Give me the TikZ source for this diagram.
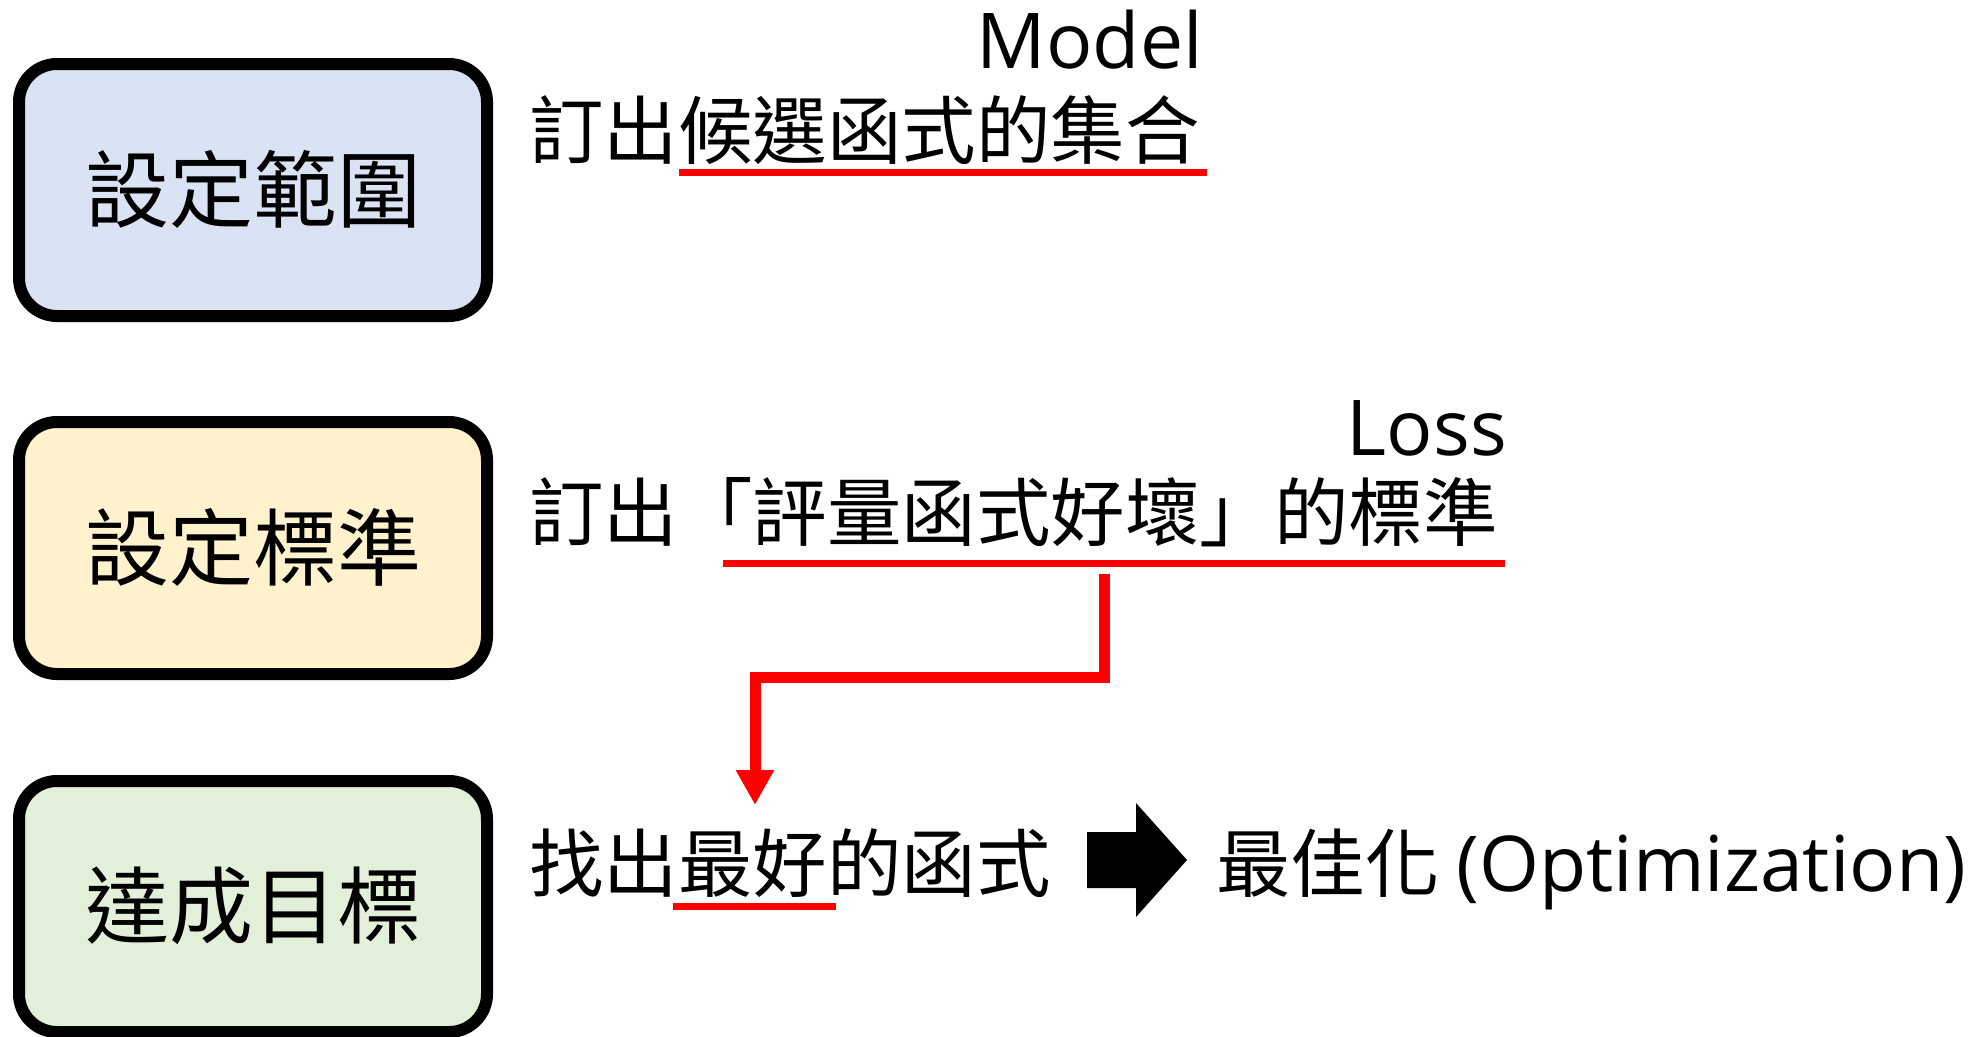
\documentclass[tikz,border=0pt]{standalone}
\usepackage{fontspec}
\setmainfont{Noto Sans CJK TC}
\newfontfamily\cjk{Noto Sans CJK TC}
\newfontfamily\lat{Open Sans}
\usetikzlibrary{arrows.meta}
\definecolor{boxblue}{HTML}{DAE3F3}
\definecolor{boxyellow}{HTML}{FFF2CC}
\definecolor{boxgreen}{HTML}{E2F0D9}
\definecolor{hl}{HTML}{FF0000}
\tikzset{
  stage/.style={draw=black, line width=12pt, rounded corners=38pt},
  stagetext/.style={anchor=base, inner sep=0pt, font=\cjk\fontsize{84}{90}\selectfont},
  desc/.style={anchor=base west, inner sep=0pt, font=\cjk\fontsize{74.5}{80}\selectfont},
  tag/.style={anchor=base east, inner sep=0pt, font=\lat\fontsize{77}{82}\selectfont},
  uline/.style={draw=hl, line width=7pt},
  flow/.style={draw=hl, line width=11pt, -{Triangle[width=36pt,length=35pt]}}
}
\begin{document}
\begin{tikzpicture}[x=1pt,y=-1pt]
\useasboundingbox (0,0) rectangle (1980,1036);
\fill[white] (0,0) rectangle (1980,1036);
% stage boxes
\filldraw[stage, fill=boxblue] (19,64) rectangle (487,316);
\filldraw[stage, fill=boxyellow] (19,422) rectangle (487,674);
\filldraw[stage, fill=boxgreen] (19,781) rectangle (487,1032);
\node[stagetext] (s1) at (253,221) {設定範圍};
\node[stagetext] (s2) at (253,579) {設定標準};
\node[stagetext] (s3) at (253,937) {達成目標};
% descriptions
\node[tag] (model) at (1203,68) {Model};
\node[desc] (d1) at (529,158) {訂出候選函式的集合};
\node[tag] (loss) at (1507,455) {Loss};
\node[desc] (d2) at (529,540) {訂出「評量函式好壞」的標準};
\node[desc] (d3) at (529,891) {找出最好的函式};
\node[desc] (opt) at (1216,891) {最佳化 {\lat\fontsize{77}{82}\selectfont (Optimization)}};
% underlines
\coordinate (u1a) at (679,172); \coordinate (u1b) at (1207,172);
\coordinate (u2a) at (723,563); \coordinate (u2b) at (1505,563);
\coordinate (u3a) at (673,906); \coordinate (u3b) at (836,906);
\draw[uline] (u1a) -- (u1b);
\draw[uline] (u2a) -- (u2b);
\draw[uline] (u3a) -- (u3b);
% red connector
\coordinate (cfrom) at (1104,574);
\coordinate (cto) at (755,805);
\draw[flow] (cfrom) |- (755,677) -- (cto);
% block arrow
\fill[black] (1087,832) -- (1136,832) -- (1136,803) -- (1187,860) -- (1136,917) -- (1136,888) -- (1087,888) -- cycle;
\end{tikzpicture}
\end{document}
